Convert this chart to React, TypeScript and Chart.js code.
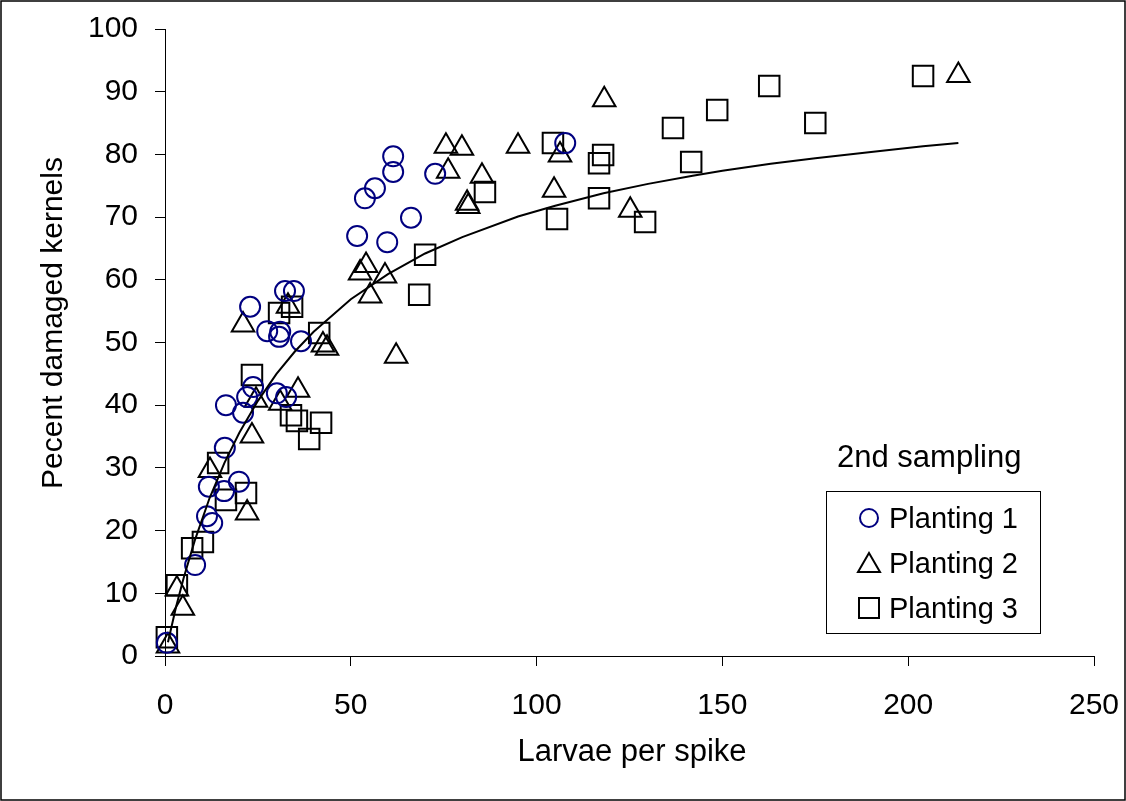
import { useEffect, useRef } from 'react';
import { Chart, registerables } from 'chart.js';

Chart.register(...registerables);

const FONT = '"Liberation Sans", Arial, sans-serif';

const xTicks = [0, 50, 100, 150, 200, 250];
const yTicks = [0, 10, 20, 30, 40, 50, 60, 70, 80, 90, 100];

const xTitle = 'Larvae per spike';
const yTitle = 'Pecent damaged kernels';
const legendTitle = '2nd sampling';
const seriesNames = ['Planting 1', 'Planting 2', 'Planting 3'];

// Planting 1 (circles)
const p1X = [0.5, 8.1, 12.7, 11.3, 11.8, 15.9, 19.9, 16.1, 16.4, 21.0, 22.1, 23.7, 30.1, 32.6, 22.9, 27.5, 31.0, 30.7, 32.3, 34.7, 36.6, 51.7, 53.8, 56.5, 61.4, 61.4, 59.8, 66.2, 72.7, 107.7];
const p1Y = [2.1, 14.5, 21.2, 22.3, 27.0, 26.3, 27.8, 33.2, 40.0, 38.8, 41.3, 42.9, 41.9, 41.3, 55.7, 51.8, 51.7, 50.9, 58.2, 58.2, 50.2, 67.0, 73.0, 74.6, 79.7, 77.2, 66.0, 69.9, 76.9, 81.8];

// Planting 2 (triangles)
const p2X = [0.8, 4.8, 3.2, 12.1, 22.1, 23.4, 21.0, 24.5, 31.0, 35.8, 33.1, 42.5, 43.6, 54.1, 52.5, 59.2, 55.2, 62.2, 75.6, 79.9, 76.2, 85.3, 81.3, 81.6, 95.0, 104.7, 106.3, 118.2, 125.2, 213.5];
const p2Y = [1.6, 7.6, 10.7, 29.6, 22.8, 35.1, 52.8, 40.8, 40.3, 42.4, 55.8, 49.6, 49.1, 62.3, 61.1, 60.6, 57.4, 47.8, 81.3, 81.0, 77.3, 76.5, 72.2, 71.7, 81.3, 74.3, 79.9, 88.7, 71.1, 92.6];

// Planting 3 (squares)
const p3X = [0.5, 3.2, 7.3, 10.2, 14.3, 16.4, 21.8, 23.4, 30.7, 34.2, 33.9, 35.5, 42.0, 38.8, 41.5, 70.0, 68.4, 86.1, 104.4, 117.9, 116.8, 116.8, 105.5, 129.2, 136.7, 141.6, 148.6, 162.6, 175.0, 204.0];
const p3Y = [3.0, 11.3, 17.2, 18.2, 30.8, 24.9, 26.0, 44.8, 54.7, 55.7, 38.4, 37.5, 37.2, 34.6, 51.5, 64.0, 57.6, 74.0, 81.8, 79.9, 78.6, 73.0, 69.7, 69.2, 84.2, 78.8, 87.1, 90.9, 85.0, 92.5];

// Fitted curve
const curveX = [0.8, 3, 5, 8, 12, 16, 20, 25, 30, 35, 40, 50, 60, 70, 80, 95, 105, 118, 130, 142, 150, 163, 175, 190, 204, 213.5];
const curveY = [2.2, 7.9, 12.4, 18.4, 25.2, 30.8, 35.6, 40.7, 45.0, 48.6, 51.7, 56.9, 60.9, 64.2, 66.8, 70.1, 71.8, 73.8, 75.3, 76.6, 77.4, 78.5, 79.4, 80.4, 81.3, 81.8];

const toPts = (xs: number[], ys: number[]) => xs.map((x, i) => ({ x, y: ys[i] }));

const NAVY = '#000080';

const decorPlugin = {
  id: 'decor',
  afterDraw(chart: any) {
    const ctx = chart.ctx as CanvasRenderingContext2D;
    ctx.save();
    // outer frame
    ctx.strokeStyle = '#000';
    ctx.lineWidth = 1.5;
    ctx.strokeRect(1, 1, chart.width - 2, chart.height - 2);

    ctx.fillStyle = '#000';
    // x title
    ctx.font = `31px ${FONT}`;
    ctx.textAlign = 'center';
    ctx.textBaseline = 'alphabetic';
    ctx.fillText(xTitle, 632, 761);

    // y title
    ctx.save();
    ctx.translate(62, 323);
    ctx.rotate(-Math.PI / 2);
    ctx.font = `30px ${FONT}`;
    ctx.textAlign = 'center';
    ctx.textBaseline = 'alphabetic';
    ctx.fillText(yTitle, 0, 0);
    ctx.restore();

    // legend title
    ctx.font = `31px ${FONT}`;
    ctx.textAlign = 'left';
    ctx.fillText(legendTitle, 837, 467);

    // legend box
    ctx.strokeStyle = '#000';
    ctx.lineWidth = 1;
    ctx.strokeRect(826.5, 491.5, 214, 142);

    ctx.font = `29px ${FONT}`;
    const rows = [518, 563, 608];
    seriesNames.forEach((name, i) => {
      const cy = rows[i];
      const cx = 869;
      ctx.lineWidth = 2;
      ctx.beginPath();
      if (i === 0) {
        ctx.strokeStyle = NAVY;
        ctx.arc(cx, cy, 9, 0, Math.PI * 2);
      } else if (i === 1) {
        ctx.strokeStyle = '#000';
        ctx.moveTo(cx, cy - 10);
        ctx.lineTo(cx + 11, cy + 9);
        ctx.lineTo(cx - 11, cy + 9);
        ctx.closePath();
      } else {
        ctx.strokeStyle = '#000';
        ctx.rect(cx - 10, cy - 10, 20, 20);
      }
      ctx.stroke();
      ctx.fillStyle = '#000';
      ctx.textBaseline = 'alphabetic';
      ctx.fillText(name, 889, cy + 10);
    });
    ctx.restore();
  },
};

export default function App() {
  const ref = useRef<HTMLCanvasElement>(null);

  useEffect(() => {
    document.body.style.margin = '0';
    const canvas = ref.current!;
    const chart = new Chart(canvas, {
      type: 'scatter',
      data: {
        datasets: [
          {
            label: 'fit',
            data: toPts(curveX, curveY),
            showLine: true,
            borderColor: '#000',
            borderWidth: 2,
            pointRadius: 0,
            fill: false,
            tension: 0,
            clip: false,
          } as any,
          {
            label: seriesNames[0],
            data: toPts(p1X, p1Y),
            pointStyle: 'circle',
            pointRadius: 10,
            borderColor: NAVY,
            backgroundColor: 'rgba(0,0,0,0)',
            borderWidth: 2,
            clip: false,
          } as any,
          {
            label: seriesNames[1],
            data: toPts(p2X, p2Y),
            pointStyle: 'triangle',
            pointRadius: 13,
            borderColor: '#000',
            backgroundColor: 'rgba(0,0,0,0)',
            borderWidth: 2,
            clip: false,
          } as any,
          {
            label: seriesNames[2],
            data: toPts(p3X, p3Y),
            pointStyle: 'rect',
            pointRadius: 14.5,
            borderColor: '#000',
            backgroundColor: 'rgba(0,0,0,0)',
            borderWidth: 2,
            clip: false,
          } as any,
        ],
      },
      options: {
        responsive: false,
        animation: false,
        devicePixelRatio: 1,
        layout: { padding: { left: 0, right: 32, top: 29, bottom: 0 } },
        plugins: {
          legend: { display: false },
          tooltip: { enabled: false },
          title: { display: false },
        },
        scales: {
          x: {
            type: 'linear',
            position: 'bottom',
            min: 0,
            max: 250,
            afterBuildTicks: (s: any) => {
              s.ticks = xTicks.map((v) => ({ value: v }));
            },
            afterFit: (s: any) => {
              s.height = 145;
              s.paddingLeft = 0;
              s.paddingRight = 0;
              s.paddingTop = 0;
              s.paddingBottom = 0;
            },
            grid: { drawOnChartArea: false, drawTicks: true, tickLength: 10, color: '#000', lineWidth: 1 },
            border: { display: true, color: '#000', width: 1 },
            ticks: {
              color: '#000',
              font: { family: FONT, size: 30 },
              padding: 22,
              maxRotation: 0,
              autoSkip: false,
            },
          },
          y: {
            type: 'linear',
            min: 0,
            max: 100,
            afterBuildTicks: (s: any) => {
              s.ticks = yTicks.map((v) => ({ value: v }));
            },
            afterFit: (s: any) => {
              s.width = 165;
              s.paddingLeft = 0;
              s.paddingRight = 0;
              s.paddingTop = 0;
              s.paddingBottom = 0;
            },
            grid: { drawOnChartArea: false, drawTicks: true, tickLength: 10, color: '#000', lineWidth: 1 },
            border: { display: true, color: '#000', width: 1 },
            ticks: {
              color: '#000',
              font: { family: FONT, size: 30 },
              padding: 17,
              autoSkip: false,
            },
          },
        },
      },
      plugins: [decorPlugin],
    });
    return () => chart.destroy();
  }, []);

  return (
    <canvas ref={ref} width={1126} height={801} style={{ display: 'block', width: 1126, height: 801 }} />
  );
}
